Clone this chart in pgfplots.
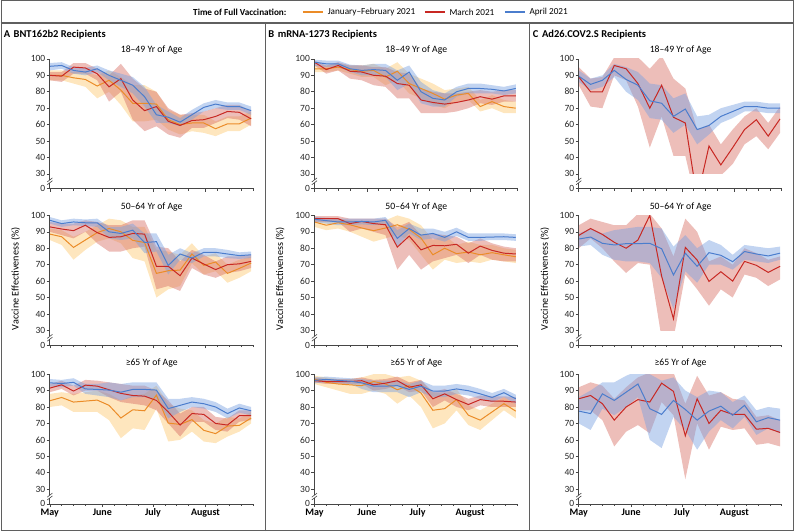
\documentclass[border=0pt]{standalone}
\usepackage{fontspec}
\setmainfont{Carlito}
\usepackage{pgfplots}
\pgfplotsset{compat=1.18}
\usepackage{pgfplotstable}
\usepgfplotslibrary{fillbetween}

\definecolor{axc}{RGB}{70,70,70}
\definecolor{frc}{RGB}{95,95,95}
\definecolor{lineO}{RGB}{235,140,40}
\definecolor{lineR}{RGB}{200,40,35}
\definecolor{lineB}{RGB}{75,125,205}
\definecolor{bandO}{RGB}{253,200,110}
\definecolor{bandR}{RGB}{215,110,100}
\definecolor{bandB}{RGB}{120,160,225}

% weekly estimates, columns: lower / estimate / upper
% A = BNT162b2, B = mRNA-1273, C = Ad26.COV2.S ; a = 18-49, b = 50-64, c = >=65
\pgfplotstableread{
x oL oM oU rL rM rU bL bM bU
0 87 90 93 87 90 92 93 95.5 97.5
1 87 90 93 86 89.5 92 94 96 98
2 85 88.5 92 91 95 97.5 91 93 95
3 83 87.5 92 91 94.5 97.5 90 92 94.5
4 76 83.5 90 87 91 94 92 94 96
5 80 87 93 74 83 90 87 90 93
6 72 81 89 80 88 97 83 87 91
7 62 73 84 63 75 88 79 84 89
8 62 73 84 56 68.5 82 71 77 83
9 63 72.5 80 59 71 80 61 66 72
10 57 63 69 54 62 70 61 64.5 68
11 54 60 66 52 59.5 66 59 61.5 64
12 56 61 66 58 62.5 67 63 66 69
13 55 61 66 58 63 68 68 70.5 73
14 53 57.5 62 61 65 70 70 72.5 75
15 56 60.5 65 64 68 72 69 71 73.5
16 56 60.5 65 63 67.5 72 69 71 73.5
17 60 64 68 59 63.5 68 66 68.5 71
}\tAa
\pgfplotstableread{
x oL oM oU rL rM rU bL bM bU
0 85 88.6 92 90 93 96 95 97 99
1 82 87 91 88 91.7 95 93 95 97
2 73 80.5 87 86 90.7 95 94 96 98
3 79 85 90 90 94 97 93.5 95.5 97.5
4 84 89.5 94 83 89.5 96 93 95.5 98
5 86 92 98 78 86.6 94 86 90 93
6 83 90 97 78 87 94 85 89 93
7 74 84.8 93 80 89 97 86 91 95
8 72 83.5 93 81 88.6 97 77 83.5 89
9 50 64.7 79 55 69 81 78 84 89
10 55 66.3 78 57 69 80 64 69.5 76
11 57 66.7 76 54 63.3 72 73 76.5 80
12 71 76.5 83 68 74 79 71 74 77
13 64 69.6 75 64 70.4 76 75 77.5 80
14 66 71.6 77 62 67 72 75 77.5 80
15 59 64.7 70 65 70 75 74 76.5 79
16 62 67.7 73 66 70.5 75 73.5 75.5 77.5
17 66 71 75 68 72 76 74 76 78
}\tAb
\pgfplotstableread{
x oL oM oU rL rM rU bL bM bU
0 80 83.8 88 89 91.5 94 92.5 94.7 97
1 81 85.8 89 91 93.5 96 92 94.3 96.5
2 77 83 88 87 89.7 93 93 95 97.5
3 77 83.6 89 90 93.3 96.5 88 91 94
4 77 84.2 90 90 92.7 96 87 90.7 94
5 72 81 88 86 90.5 95 86 90.3 95
6 61 73.3 84 83 88.3 94 84 89 94
7 67 78.3 87 82 87 93 86 90.7 95
8 66 77.7 88 81 86.6 93 86 90.7 95
9 79 87.2 93 78 84 90 85 90.3 95
10 59 70.2 82 70 77 84 73 79 85
11 60 69.4 79 62 69 76 77 81 85
12 65 72.3 78 71 76 80 80 83 86
13 59 65.8 72 71 75.5 80 79 82 85
14 58 63.8 70 66 70 74 77 80 83
15 62 68.4 74 65 69 73 73 76 79
16 65 68.8 73 71 74.7 78 76.5 79.4 82
17 70 73.3 77 72 74.7 78 75 77.7 80
}\tAc
\pgfplotstableread{
x oL oM oU rL rM rU bL bM bU
0 92 94 96 96 98 99 96 98 99.5
1 92 94 96 91 93.5 96 95 97 99
2 93 95 97 93 96 98 95 97 99
3 91 93.5 96 88 92.5 96 92 94 96.5
4 89 92.5 96 87 92 96 90 93 96
5 89 93 97 84 90 95 90 93.5 97
6 84 89 94 83 89.5 95 89 93 97
7 87 92.5 98 76 85 92 81 87 93
8 79 85 91 76 84 91 85 92 96
9 76 82 88 67 75 82 73 80 86
10 72 79 85 67 73.5 80 71 76 81
11 70 75.5 81 67 72.5 79 71 75 79
12 74 78 82 68 73.5 79 77 80 83
13 75 79 83 70 75 80 79 82 85
14 68 71 75 73 77 81 79 82 85
15 70 74 78 72 75.5 80 79 81.5 84
16 67 71 75 74 77.5 81 78 80.5 83
17 67 70 74 74 77.5 81 79 82 84.5
}\tBa
\pgfplotstableread{
x oL oM oU rL rM rU bL bM bU
0 93 96 98 96 98 99.5 96 97.6 99
1 91 94 97 96 98 99.5 95 96.8 98.5
2 92 95.5 98 96 98 99.5 94 96 98
3 90 94.3 97 90 95 98 94 96 98
4 87 92.3 96 92 96.3 98 94.5 96.3 98
5 84 90.7 96 90 95 98 94 96 98
6 86 92.3 97 88 94.3 98 95 97 99
7 88 94.3 100 67 80.7 93 81 86 91
8 85 91.5 98 76 87.4 96 89 92 95
9 76 86.2 94 67 79 88 85 88 92
10 67 76 85 72 81.7 89 86 89 92
11 73 80 88 74 81.5 88 84 86.6 90
12 71 76.7 82 76 82.4 87 87.5 90 92.5
13 72 77.7 84 71 77 83 84.5 86.6 89
14 71 76 82 76 81.3 86 84.5 86.6 89
15 73 77.3 82 73 78.7 83 85 86.8 89
16 72 76 80 72 77 81 85 87 89
17 71 74.8 79 72 76.5 80 84.5 86.6 88.5
}\tBb
\pgfplotstableread{
x oL oM oU rL rM rU bL bM bU
0 94 97 99 95 96 98 94.5 96.2 98
1 92 95 98 94 95.5 97 95 96.8 98.5
2 90 94 97 94 95.5 97 94.5 96.2 98
3 88 93.5 97 94 95.5 97 94 95.7 97.5
4 88 93 98 94 96 98 91 94.7 97
5 90 95.5 100 90 93.5 96.5 89 92.7 96
6 88 94 100 91 94.5 97 89 92.7 96
7 82 90.5 98 93 96 98.5 89 93 96
8 87 93 99 89 92 95 86 90.7 94
9 80 88.5 96 90 93.5 96.5 89 92.7 96
10 67 78 89 80 85 89 86 89.7 93
11 70 79 88 84 88 91 86 89.7 93
12 78 84.5 91 80 84.5 88 88 91 94
13 69 75 81 78 81.5 85 87 89.9 93
14 66 72 78 81 84.5 87 85 88 91
15 72 77 82 80 83.5 86.5 83 85.8 88.5
16 78 82 86 80 83.5 86.5 86 88.7 91
17 73 77.5 82 80 83 86 82 85 87.5
}\tBc
\pgfplotstableread{
x rL rM rU bL bM bU
0 84 89 95 86 89.5 93
1 71 80 88 81 84.5 88
2 70 80 89 83 87 90
3 90 96 101 89 93 97
4 87 94 101 80 87.5 95
5 71 85 101 75 84 92
6 46 70 94 64 74.5 85
7 65 84 102 63 73 84
8 41 64.5 88 55 65 76
9 41 61 82 60 69.5 79
10 10 15 57 48 57 65
11 20 47 60 54 59.5 66
12 29 35.5 48 61 65 70
13 36 46 57 64 68 72
14 48 57 65 68 71 74
15 53 63 70 68 71 74
16 45 53 61 67 70 73
17 55 63.5 71 67 70 73
}\tCa
\pgfplotstableread{
x rL rM rU bL bM bU
0 80 87.8 94 81 85.6 89
1 86 92 98 82 86.8 92
2 80 88.4 96 76 83 89
3 72 83.6 94 73 82 91
4 65 80 94 72 82.8 92
5 71 85 101 72 82.8 93
6 70 100 101 71 83 93
7 25 63 92 62 79.7 92
8 25 37 75 43 63.7 81
9 64 80.5 98 66 77 88
10 55 72.8 90 59 69 80
11 45 59.8 72 70 77.3 85
12 55 65.7 75 70 75.7 82
13 50 60 70 67 71.8 76
14 64 72 80 73 78 82
15 62 69.6 77 72 76.5 81
16 57 65.3 73 71 75.3 80
17 61 69 75 73 77 81
}\tCb
\pgfplotstableread{
x rL rM rU bL bM bU
0 78 85 92 70 77.5 86
1 78 87 95 66 76 90
2 72 82 93 79 88 95
3 56 72 85 75 84 95
4 65 80 92 80 89 99
5 69 84.5 98 86 94 102
6 64 83 101 60 79 100
7 83 94.5 101 55 75.5 96
8 75 89.5 101 74 84 98
9 36 62.5 82 66 78.5 90
10 70 85 99 54 72 86
11 54 70 87 65 77.5 90
12 68 78 89 72 80.5 89
13 66 75.5 85 67 75 83
14 67 75.5 84 74 81 87
15 57 66.5 74 63 71 78
16 58 67 75 67 73.5 80
17 56 64.5 72 64 72 79
}\tCc

\pgfplotsset{
  frm/.style={
    scale only axis, width=204pt, height=130pt, anchor=south west,
    xmin=0, xmax=17.2, ymin=21, ymax=100,
    axis x line*=bottom, axis y line*=left,
    xtick pos=left, ytick pos=left,
    axis line style={draw=axc, line width=0.7pt},
    every tick/.style={draw=axc, line width=0.6pt},
    tick align=outside,
    major tick length=3.2pt, minor tick length=2pt,
    ytick={21,30,40,50,60,70,80,90,100},
    yticklabels={0,30,40,50,60,70,80,90,100},
    xtick={0,4.43,8.71,13.14},
    minor xtick={1,2,3,5.43,6.43,7.43,9.71,10.71,11.71,14.14,15.14,16.14,17.14},
    xticklabels={},
    yticklabel style={font=\fontsize{9.5}{11}\selectfont, text=black!85, inner sep=1.2pt},
    xticklabel style={font=\bfseries\fontsize{10}{12}\selectfont, inner sep=1.5pt},
    /pgf/number format/assume math mode=true,
  },
  dat/.style={
    scale only axis, width=204pt, height=115.19pt, anchor=south west,
    xmin=0, xmax=17.2, ymin=30, ymax=100, hide axis,
  },
}

\newcommand{\band}[3]{%
  \addplot[name path=#2U, draw=none] table[x=x, y=#2U] {#1};
  \addplot[name path=#2L, draw=none] table[x=x, y=#2L] {#1};
  \addplot[fill=#3, fill opacity=0.45, draw=none] fill between[of=#2U and #2L];
}

% data axis with three vaccination groups
\newcommand{\dataORB}[3]{%
  \begin{axis}[dat, at={(#1,#2)}]
    \band{#3}{o}{bandO}
    \band{#3}{r}{bandR}
    \band{#3}{b}{bandB}
    \addplot[color=lineO, line width=1pt] table[x=x, y=oM] {#3};
    \addplot[color=lineR, line width=1pt] table[x=x, y=rM] {#3};
    \addplot[color=lineB, line width=1pt] table[x=x, y=bM] {#3};
  \end{axis}
}
% data axis with two groups (Ad26)
\newcommand{\dataRB}[3]{%
  \begin{axis}[dat, at={(#1,#2)}]
    \band{#3}{r}{bandR}
    \band{#3}{b}{bandB}
    \addplot[color=lineR, line width=1pt] table[x=x, y=rM] {#3};
    \addplot[color=lineB, line width=1pt] table[x=x, y=bM] {#3};
  \end{axis}
}
% frame axis + axis break
\newcommand{\frameax}[3]{%
  \begin{axis}[frm, at={(#1,#2)}, #3]
  \end{axis}
  \path (#1,#2) ++(0pt,7.4pt) coordinate (brk);
  \fill[white] ([shift={(-1.3pt,-1.6pt)}]brk) rectangle ([shift={(1.3pt,1.6pt)}]brk);
  \draw[axc, line width=0.6pt] ([shift={(-2.6pt,-3.4pt)}]brk) -- ([shift={(2.6pt,0.6pt)}]brk);
  \draw[axc, line width=0.6pt] ([shift={(-2.6pt,-0.6pt)}]brk) -- ([shift={(2.6pt,3.4pt)}]brk);
}

\begin{document}
\begin{tikzpicture}

% panels: column A x=49.3, B x=314.3, C x=579 ; rows zero level y=343, 186.3, 27.3
\dataORB{49.3pt}{357.81pt}{\tAa}
\dataORB{49.3pt}{201.11pt}{\tAb}
\dataORB{49.3pt}{42.11pt}{\tAc}
\dataORB{314.3pt}{357.81pt}{\tBa}
\dataORB{314.3pt}{201.11pt}{\tBb}
\dataORB{314.3pt}{42.11pt}{\tBc}
\dataRB{579pt}{357.81pt}{\tCa}
\dataRB{579pt}{201.11pt}{\tCb}
\dataRB{579pt}{42.11pt}{\tCc}

\frameax{49.3pt}{343pt}{}
\frameax{49.3pt}{186.3pt}{}
\frameax{49.3pt}{27.3pt}{xticklabels={May,June,July,August}}
\frameax{314.3pt}{343pt}{}
\frameax{314.3pt}{186.3pt}{}
\frameax{314.3pt}{27.3pt}{xticklabels={May,June,July,August}}
\frameax{579pt}{343pt}{}
\frameax{579pt}{186.3pt}{}
\frameax{579pt}{27.3pt}{xticklabels={May,June,July,August}}

% panel titles
\begin{scope}[every node/.style={font=\fontsize{9.7}{11}\selectfont, inner sep=0pt}]
\foreach \cx in {151.3, 416.3, 681} {
  \node at (\cx pt, 482pt) {18–49 Yr of Age};
  \node at (\cx pt, 324.7pt) {50–64 Yr of Age};
  \node at (\cx pt, 168pt) {≥65 Yr of Age};
}
\foreach \lx in {15, 280, 545} {
  \node[rotate=90, font=\fontsize{10.2}{12}\selectfont] at (\lx pt, 253pt) {Vaccine Effectiveness (\%)};
}
\end{scope}

% column headings
\begin{scope}[every node/.style={font=\bfseries\fontsize{10.5}{12}\selectfont, inner sep=0pt, anchor=west}]
\node at (3pt, 497pt) {A\hspace{3.5pt}BNT162b2 Recipients};
\node at (268pt, 497pt) {B\hspace{3.5pt}mRNA-1273 Recipients};
\node at (533pt, 497pt) {C\hspace{3.5pt}Ad26.COV2.S Recipients};
\end{scope}

% legend
\begin{scope}[every node/.style={font=\fontsize{9.2}{11}\selectfont, inner sep=0pt, anchor=west}]
\node[font=\bfseries\fontsize{9.2}{11}\selectfont] at (192.7pt, 520pt) {Time of Full Vaccination:};
\draw[draw=lineO, line width=1.3pt] (302.7pt,520pt) -- (322.7pt,520pt);
\node at (327.5pt, 520pt) {January–February 2021};
\draw[draw=lineR, line width=1.3pt] (425pt,520pt) -- (445pt,520pt);
\node at (449.5pt, 520pt) {March 2021};
\draw[draw=lineB, line width=1.3pt] (505pt,520pt) -- (525pt,520pt);
\node at (529.5pt, 520pt) {April 2021};
\end{scope}

% frame
\draw[frc, line width=1.2pt] (0.6pt,0.6pt) rectangle (794.4pt,531.4pt);
\draw[frc, line width=1.2pt] (0pt,509pt) -- (795pt,509pt);
\draw[frc, line width=1.2pt] (265pt,0pt) -- (265pt,509pt);
\draw[frc, line width=1.2pt] (530pt,0pt) -- (530pt,509pt);
\end{tikzpicture}
\end{document}
